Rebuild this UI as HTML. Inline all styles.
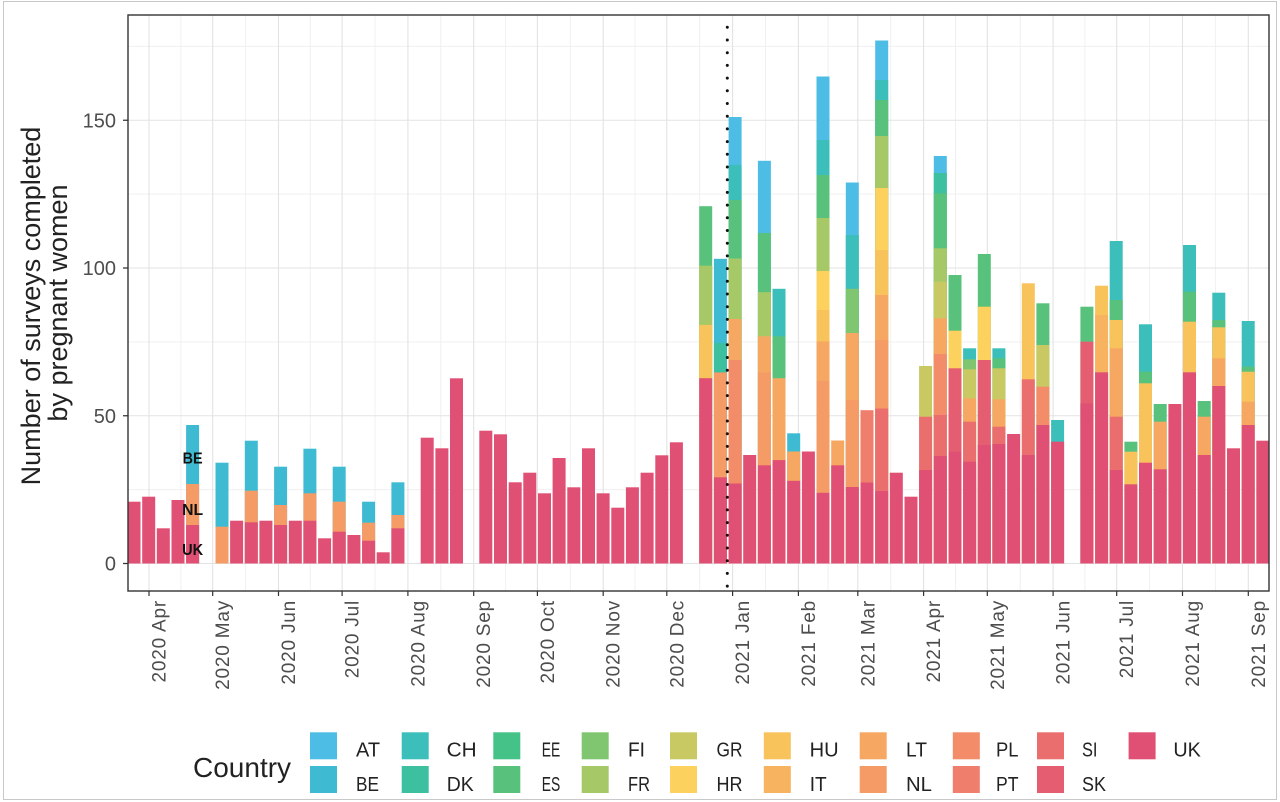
<!DOCTYPE html>
<html><head><meta charset="utf-8"><style>
html,body{margin:0;padding:0;background:#fff;width:1280px;height:802px;overflow:hidden}
svg{display:block}
.AT{fill:#4DBDE6}.BE{fill:#3EBBD3}.CH{fill:#3CBEBB}.DK{fill:#3CC0A0}.EE{fill:#45C288}.ES{fill:#58C27C}
.FI{fill:#80C570}.FR{fill:#A7C867}.GR{fill:#C8C963}.HR{fill:#FCD15D}.HU{fill:#F9C35C}.IT{fill:#F7B35F}
.LT{fill:#F6A862}.NL{fill:#F59C66}.PL{fill:#F28C69}.PT{fill:#EF7E6C}.SI{fill:#EA6E6E}.SK{fill:#E45D71}.UK{fill:#E05074}
.yt{font-size:20px;fill:#4D4D4D;text-anchor:end}
.xt{font-size:19px;fill:#4D4D4D;text-anchor:end;letter-spacing:0.8px}
.lg{font-size:20px;fill:#222}
.bl{font-size:16px;font-weight:bold;fill:#111;text-anchor:middle}
</style></head><body>
<svg width="1280" height="802" viewBox="0 0 1280 802" font-family="'Liberation Sans', Arial, sans-serif">
<rect x="0" y="0" width="1280" height="802" fill="#fff"/>
<rect x="3.5" y="1.5" width="1273" height="798" fill="none" stroke="#C8C8C8" stroke-width="1"/>

<g stroke="#F0F0F0" stroke-width="1" fill="none">
<path d="M128 46.4H1269M128 194.1H1269M128 341.9H1269M128 489.6H1269"/>
<path d="M180.9 15V591M245.6 15V591M310.3 15V591M375 15V591M440.8 15V591M505.6 15V591M570.3 15V591M635 15V591M699.7 15V591M765.5 15V591M828.1 15V591M890.7 15V591M955.5 15V591M1020.2 15V591M1084.9 15V591M1149.6 15V591M1215.4 15V591"/>
</g>
<g stroke="#E3E3E3" stroke-width="1.1" fill="none">
<path d="M128 120.25H1269M128 268H1269M128 415.75H1269M128 563.5H1269"/>
<path d="M149 15V591M212.7 15V591M278.5 15V591M342.1 15V591M407.9 15V591M473.7 15V591M537.4 15V591M603.2 15V591M666.8 15V591M732.6 15V591M798.4 15V591M857.8 15V591M923.6 15V591M987.3 15V591M1053.1 15V591M1116.7 15V591M1182.5 15V591M1248.3 15V591"/>
</g>

<g>
<rect class="UK" x="127.5" y="501.7" width="13" height="61.8"/>
<rect class="UK" x="142.2" y="496.7" width="13" height="66.8"/>
<rect class="UK" x="156.8" y="528.3" width="13" height="35.2"/>
<rect class="UK" x="171.5" y="500" width="13" height="63.5"/>
<rect class="BE" x="186.1" y="425" width="13" height="138.5"/><rect class="NL" x="186.1" y="484" width="13" height="79.5"/><rect class="UK" x="186.1" y="525" width="13" height="38.5"/>
<rect class="BE" x="215.5" y="462.7" width="13" height="100.8"/><rect class="NL" x="215.5" y="526.7" width="13" height="36.8"/>
<rect class="UK" x="230.1" y="520.7" width="13" height="42.8"/>
<rect class="BE" x="244.8" y="440.7" width="13" height="122.8"/><rect class="NL" x="244.8" y="490.7" width="13" height="72.8"/><rect class="UK" x="244.8" y="522.3" width="13" height="41.2"/>
<rect class="UK" x="259.4" y="520.7" width="13" height="42.8"/>
<rect class="BE" x="274.1" y="466.7" width="13" height="96.8"/><rect class="NL" x="274.1" y="505" width="13" height="58.5"/><rect class="UK" x="274.1" y="525" width="13" height="38.5"/>
<rect class="UK" x="288.8" y="520.7" width="13" height="42.8"/>
<rect class="BE" x="303.4" y="448.7" width="13" height="114.8"/><rect class="NL" x="303.4" y="493.3" width="13" height="70.2"/><rect class="UK" x="303.4" y="520.7" width="13" height="42.8"/>
<rect class="UK" x="318.1" y="538.3" width="13" height="25.2"/>
<rect class="BE" x="332.7" y="466.7" width="13" height="96.8"/><rect class="NL" x="332.7" y="501.7" width="13" height="61.8"/><rect class="UK" x="332.7" y="531.7" width="13" height="31.8"/>
<rect class="UK" x="347.4" y="535" width="13" height="28.5"/>
<rect class="BE" x="362.1" y="501.7" width="13" height="61.8"/><rect class="NL" x="362.1" y="522.7" width="13" height="40.8"/><rect class="UK" x="362.1" y="540.7" width="13" height="22.8"/>
<rect class="UK" x="376.7" y="552.3" width="13" height="11.2"/>
<rect class="BE" x="391.4" y="482.3" width="13" height="81.2"/><rect class="NL" x="391.4" y="515" width="13" height="48.5"/><rect class="UK" x="391.4" y="528.3" width="13" height="35.2"/>
<rect class="UK" x="420.7" y="437.7" width="13" height="125.8"/>
<rect class="UK" x="435.4" y="448.3" width="13" height="115.2"/>
<rect class="UK" x="450" y="378.3" width="13" height="185.2"/>
<rect class="UK" x="479.3" y="430.7" width="13" height="132.8"/>
<rect class="UK" x="494" y="434.3" width="13" height="129.2"/>
<rect class="UK" x="508.7" y="482.3" width="13" height="81.2"/>
<rect class="UK" x="523.3" y="472.7" width="13" height="90.8"/>
<rect class="UK" x="538" y="493.3" width="13" height="70.2"/>
<rect class="UK" x="552.6" y="458" width="13" height="105.5"/>
<rect class="UK" x="567.3" y="487.3" width="13" height="76.2"/>
<rect class="UK" x="582" y="448.3" width="13" height="115.2"/>
<rect class="UK" x="596.6" y="493.3" width="13" height="70.2"/>
<rect class="UK" x="611.3" y="507.7" width="13" height="55.8"/>
<rect class="UK" x="625.9" y="487.3" width="13" height="76.2"/>
<rect class="UK" x="640.6" y="472.7" width="13" height="90.8"/>
<rect class="UK" x="655.3" y="455.3" width="13" height="108.2"/>
<rect class="UK" x="669.9" y="442.3" width="13" height="121.2"/>
<rect class="ES" x="699.2" y="206.2" width="13" height="357.3"/><rect class="FR" x="699.2" y="265.7" width="13" height="297.8"/><rect class="HU" x="699.2" y="324.9" width="13" height="238.6"/><rect class="UK" x="699.2" y="378.2" width="13" height="185.3"/>
<rect class="BE" x="713.9" y="258.8" width="13" height="304.7"/><rect class="DK" x="713.9" y="343.1" width="13" height="220.4"/><rect class="NL" x="713.9" y="372.4" width="13" height="191.1"/><rect class="UK" x="713.9" y="477.3" width="13" height="86.2"/>
<rect class="AT" x="728.6" y="117" width="13" height="446.5"/><rect class="CH" x="728.6" y="165" width="13" height="398.5"/><rect class="ES" x="728.6" y="200" width="13" height="363.5"/><rect class="FR" x="728.6" y="258.5" width="13" height="305"/><rect class="LT" x="728.6" y="319" width="13" height="244.5"/><rect class="PL" x="728.6" y="360" width="13" height="203.5"/><rect class="UK" x="728.6" y="483.5" width="13" height="80"/>
<rect class="UK" x="743.2" y="455" width="13" height="108.5"/>
<rect class="AT" x="757.9" y="160.8" width="13" height="402.7"/><rect class="ES" x="757.9" y="233" width="13" height="330.5"/><rect class="FR" x="757.9" y="292.2" width="13" height="271.3"/><rect class="LT" x="757.9" y="336.3" width="13" height="227.2"/><rect class="NL" x="757.9" y="372.4" width="13" height="191.1"/><rect class="UK" x="757.9" y="465.3" width="13" height="98.2"/>
<rect class="CH" x="772.5" y="288.8" width="13" height="274.7"/><rect class="ES" x="772.5" y="336.3" width="13" height="227.2"/><rect class="LT" x="772.5" y="378.2" width="13" height="185.3"/><rect class="UK" x="772.5" y="460.1" width="13" height="103.4"/>
<rect class="BE" x="787.2" y="433.3" width="13" height="130.2"/><rect class="LT" x="787.2" y="451.5" width="13" height="112"/><rect class="UK" x="787.2" y="480.8" width="13" height="82.7"/>
<rect class="UK" x="801.9" y="451.5" width="13" height="112"/>
<rect class="AT" x="816.5" y="76.5" width="13" height="487"/><rect class="CH" x="816.5" y="140" width="13" height="423.5"/><rect class="ES" x="816.5" y="175" width="13" height="388.5"/><rect class="FR" x="816.5" y="218" width="13" height="345.5"/><rect class="HR" x="816.5" y="271" width="13" height="292.5"/><rect class="HU" x="816.5" y="310" width="13" height="253.5"/><rect class="LT" x="816.5" y="341.4" width="13" height="222.1"/><rect class="NL" x="816.5" y="381" width="13" height="182.5"/><rect class="UK" x="816.5" y="492.8" width="13" height="70.7"/>
<rect class="LT" x="831.2" y="440.5" width="13" height="123"/><rect class="UK" x="831.2" y="465.3" width="13" height="98.2"/>
<rect class="AT" x="845.8" y="182.5" width="13" height="381"/><rect class="CH" x="845.8" y="235" width="13" height="328.5"/><rect class="FI" x="845.8" y="288.8" width="13" height="274.7"/><rect class="LT" x="845.8" y="333" width="13" height="230.5"/><rect class="NL" x="845.8" y="400" width="13" height="163.5"/><rect class="UK" x="845.8" y="487" width="13" height="76.5"/>
<rect class="PT" x="860.5" y="410.2" width="13" height="153.3"/><rect class="UK" x="860.5" y="482.5" width="13" height="81"/>
<rect class="AT" x="875.2" y="40.5" width="13" height="523"/><rect class="CH" x="875.2" y="80" width="13" height="483.5"/><rect class="ES" x="875.2" y="100" width="13" height="463.5"/><rect class="FR" x="875.2" y="136" width="13" height="427.5"/><rect class="HR" x="875.2" y="188" width="13" height="375.5"/><rect class="HU" x="875.2" y="250" width="13" height="313.5"/><rect class="LT" x="875.2" y="295" width="13" height="268.5"/><rect class="NL" x="875.2" y="340" width="13" height="223.5"/><rect class="SI" x="875.2" y="408.5" width="13" height="155"/><rect class="UK" x="875.2" y="491.1" width="13" height="72.4"/>
<rect class="UK" x="889.8" y="472.7" width="13" height="90.8"/>
<rect class="UK" x="904.5" y="496.7" width="13" height="66.8"/>
<rect class="GR" x="919.1" y="366" width="13" height="197.5"/><rect class="SI" x="919.1" y="416.7" width="13" height="146.8"/><rect class="UK" x="919.1" y="470" width="13" height="93.5"/>
<rect class="AT" x="933.8" y="156" width="13" height="407.5"/><rect class="DK" x="933.8" y="173" width="13" height="390.5"/><rect class="ES" x="933.8" y="193.3" width="13" height="370.2"/><rect class="FR" x="933.8" y="248.3" width="13" height="315.2"/><rect class="GR" x="933.8" y="281.7" width="13" height="281.8"/><rect class="LT" x="933.8" y="318.3" width="13" height="245.2"/><rect class="PL" x="933.8" y="354" width="13" height="209.5"/><rect class="SI" x="933.8" y="415" width="13" height="148.5"/><rect class="UK" x="933.8" y="456" width="13" height="107.5"/>
<rect class="ES" x="948.5" y="275" width="13" height="288.5"/><rect class="HR" x="948.5" y="330.7" width="13" height="232.8"/><rect class="SK" x="948.5" y="368.3" width="13" height="195.2"/><rect class="UK" x="948.5" y="451.7" width="13" height="111.8"/>
<rect class="CH" x="963.1" y="348.3" width="13" height="215.2"/><rect class="FI" x="963.1" y="359.3" width="13" height="204.2"/><rect class="GR" x="963.1" y="369.3" width="13" height="194.2"/><rect class="LT" x="963.1" y="398.3" width="13" height="165.2"/><rect class="SI" x="963.1" y="421.7" width="13" height="141.8"/><rect class="UK" x="963.1" y="461.7" width="13" height="101.8"/>
<rect class="ES" x="977.8" y="254" width="13" height="309.5"/><rect class="HR" x="977.8" y="306.7" width="13" height="256.8"/><rect class="SK" x="977.8" y="360" width="13" height="203.5"/><rect class="UK" x="977.8" y="445" width="13" height="118.5"/>
<rect class="CH" x="992.4" y="348.3" width="13" height="215.2"/><rect class="ES" x="992.4" y="358.3" width="13" height="205.2"/><rect class="GR" x="992.4" y="368.3" width="13" height="195.2"/><rect class="LT" x="992.4" y="399.3" width="13" height="164.2"/><rect class="SI" x="992.4" y="426.7" width="13" height="136.8"/><rect class="UK" x="992.4" y="444" width="13" height="119.5"/>
<rect class="UK" x="1007.1" y="434" width="13" height="129.5"/>
<rect class="HU" x="1021.8" y="283.3" width="13" height="280.2"/><rect class="SI" x="1021.8" y="379.3" width="13" height="184.2"/><rect class="UK" x="1021.8" y="455" width="13" height="108.5"/>
<rect class="ES" x="1036.4" y="303.3" width="13" height="260.2"/><rect class="GR" x="1036.4" y="345" width="13" height="218.5"/><rect class="PL" x="1036.4" y="386.7" width="13" height="176.8"/><rect class="UK" x="1036.4" y="425" width="13" height="138.5"/>
<rect class="CH" x="1051.1" y="420" width="13" height="143.5"/><rect class="UK" x="1051.1" y="441.7" width="13" height="121.8"/>
<rect class="ES" x="1080.4" y="306.7" width="13" height="256.8"/><rect class="SK" x="1080.4" y="341.7" width="13" height="221.8"/><rect class="UK" x="1080.4" y="403.3" width="13" height="160.2"/>
<rect class="HU" x="1095.1" y="285.7" width="13" height="277.8"/><rect class="IT" x="1095.1" y="315" width="13" height="248.5"/><rect class="UK" x="1095.1" y="372.3" width="13" height="191.2"/>
<rect class="CH" x="1109.7" y="241" width="13" height="322.5"/><rect class="ES" x="1109.7" y="300" width="13" height="263.5"/><rect class="HU" x="1109.7" y="320" width="13" height="243.5"/><rect class="LT" x="1109.7" y="348.3" width="13" height="215.2"/><rect class="SI" x="1109.7" y="416.7" width="13" height="146.8"/><rect class="UK" x="1109.7" y="470" width="13" height="93.5"/>
<rect class="ES" x="1124.4" y="441.7" width="13" height="121.8"/><rect class="HU" x="1124.4" y="451.7" width="13" height="111.8"/><rect class="UK" x="1124.4" y="484.3" width="13" height="79.2"/>
<rect class="CH" x="1139" y="324.3" width="13" height="239.2"/><rect class="ES" x="1139" y="371.7" width="13" height="191.8"/><rect class="HU" x="1139" y="383.3" width="13" height="180.2"/><rect class="UK" x="1139" y="462.7" width="13" height="100.8"/>
<rect class="ES" x="1153.7" y="404" width="13" height="159.5"/><rect class="LT" x="1153.7" y="421.7" width="13" height="141.8"/><rect class="UK" x="1153.7" y="469.3" width="13" height="94.2"/>
<rect class="UK" x="1168.4" y="404" width="13" height="159.5"/>
<rect class="CH" x="1183" y="245" width="13" height="318.5"/><rect class="ES" x="1183" y="291.7" width="13" height="271.8"/><rect class="HU" x="1183" y="321.7" width="13" height="241.8"/><rect class="UK" x="1183" y="372.3" width="13" height="191.2"/>
<rect class="ES" x="1197.7" y="401" width="13" height="162.5"/><rect class="LT" x="1197.7" y="416.7" width="13" height="146.8"/><rect class="UK" x="1197.7" y="455" width="13" height="108.5"/>
<rect class="CH" x="1212.3" y="292.7" width="13" height="270.8"/><rect class="ES" x="1212.3" y="320" width="13" height="243.5"/><rect class="HU" x="1212.3" y="327.3" width="13" height="236.2"/><rect class="LT" x="1212.3" y="358.3" width="13" height="205.2"/><rect class="UK" x="1212.3" y="386" width="13" height="177.5"/>
<rect class="UK" x="1227" y="448.3" width="13" height="115.2"/>
<rect class="CH" x="1241.7" y="321" width="13" height="242.5"/><rect class="ES" x="1241.7" y="366.7" width="13" height="196.8"/><rect class="HU" x="1241.7" y="371.7" width="13" height="191.8"/><rect class="LT" x="1241.7" y="401.7" width="13" height="161.8"/><rect class="UK" x="1241.7" y="425" width="13" height="138.5"/>
<rect class="UK" x="1256.3" y="440.7" width="13" height="122.8"/>
</g>

<text class="bl" x="192.6" y="463.3" textLength="20" lengthAdjust="spacingAndGlyphs">BE</text>
<text class="bl" x="192.6" y="515" textLength="21" lengthAdjust="spacingAndGlyphs">NL</text>
<text class="bl" x="192.6" y="555" textLength="21" lengthAdjust="spacingAndGlyphs">UK</text>

<line x1="727.3" y1="27.3" x2="727.3" y2="590" stroke="#111" stroke-width="3" stroke-linecap="round" stroke-dasharray="0 12.7"/>

<rect x="128" y="15" width="1141" height="576" fill="none" stroke="#333" stroke-width="1.4"/>

<g stroke="#333" stroke-width="1.2">
<path d="M123 563.5H128M123 415.75H128M123 268H128M123 120.25H128"/>
<path d="M149 591V596M212.7 591V596M278.5 591V596M342.1 591V596M407.9 591V596M473.7 591V596M537.4 591V596M603.2 591V596M666.8 591V596M732.6 591V596M798.4 591V596M857.8 591V596M923.6 591V596M987.3 591V596M1053.1 591V596M1116.7 591V596M1182.5 591V596M1248.3 591V596"/>
</g>
<text class="yt" x="116" y="570.5">0</text>
<text class="yt" x="116" y="422.75">50</text>
<text class="yt" x="116" y="275">100</text>
<text class="yt" x="116" y="127.25">150</text>

<text class="xt" transform="translate(165.5,600) rotate(-90)">2020 Apr</text>
<text class="xt" transform="translate(229.2,600) rotate(-90)">2020 May</text>
<text class="xt" transform="translate(295,600) rotate(-90)">2020 Jun</text>
<text class="xt" transform="translate(358.6,600) rotate(-90)">2020 Jul</text>
<text class="xt" transform="translate(424.4,600) rotate(-90)">2020 Aug</text>
<text class="xt" transform="translate(490.2,600) rotate(-90)">2020 Sep</text>
<text class="xt" transform="translate(553.9,600) rotate(-90)">2020 Oct</text>
<text class="xt" transform="translate(619.7,600) rotate(-90)">2020 Nov</text>
<text class="xt" transform="translate(683.3,600) rotate(-90)">2020 Dec</text>
<text class="xt" transform="translate(749.1,600) rotate(-90)">2021 Jan</text>
<text class="xt" transform="translate(814.9,600) rotate(-90)">2021 Feb</text>
<text class="xt" transform="translate(874.3,600) rotate(-90)">2021 Mar</text>
<text class="xt" transform="translate(940.1,600) rotate(-90)">2021 Apr</text>
<text class="xt" transform="translate(1003.8,600) rotate(-90)">2021 May</text>
<text class="xt" transform="translate(1069.6,600) rotate(-90)">2021 Jun</text>
<text class="xt" transform="translate(1133.2,600) rotate(-90)">2021 Jul</text>
<text class="xt" transform="translate(1199,600) rotate(-90)">2021 Aug</text>
<text class="xt" transform="translate(1264.8,600) rotate(-90)">2021 Sep</text>

<text transform="translate(40,306) rotate(-90)" text-anchor="middle" font-size="27" fill="#222">Number of surveys completed</text>
<text transform="translate(67,303) rotate(-90)" text-anchor="middle" font-size="27" fill="#222">by pregnant women</text>

<text x="193" y="777" font-size="28" fill="#222">Country</text>
<rect class="AT" x="310" y="732.3" width="27" height="27"/><rect class="BE" x="310" y="766" width="27" height="27"/>
<rect class="CH" x="401.7" y="732.3" width="27" height="27"/><rect class="DK" x="401.7" y="766" width="27" height="27"/>
<rect class="EE" x="493.3" y="732.3" width="27" height="27"/><rect class="ES" x="493.3" y="766" width="27" height="27"/>
<rect class="FI" x="581.7" y="732.3" width="27" height="27"/><rect class="FR" x="581.7" y="766" width="27" height="27"/>
<rect class="GR" x="670" y="732.3" width="27" height="27"/><rect class="HR" x="670" y="766" width="27" height="27"/>
<rect class="HU" x="763.8" y="732.3" width="27" height="27"/><rect class="IT" x="763.8" y="766" width="27" height="27"/>
<rect class="LT" x="859.7" y="732.3" width="27" height="27"/><rect class="NL" x="859.7" y="766" width="27" height="27"/>
<rect class="PL" x="952.8" y="732.3" width="27" height="27"/><rect class="PT" x="952.8" y="766" width="27" height="27"/>
<rect class="SI" x="1037" y="732.3" width="27" height="27"/><rect class="SK" x="1037" y="766" width="27" height="27"/>
<rect class="UK" x="1128.6" y="732.3" width="27" height="27"/>

<text class="lg" x="356" y="756.5" textLength="24" lengthAdjust="spacingAndGlyphs">AT</text>
<text class="lg" x="356" y="791" textLength="23" lengthAdjust="spacingAndGlyphs">BE</text>
<text class="lg" x="446.7" y="756.5" textLength="30" lengthAdjust="spacingAndGlyphs">CH</text>
<text class="lg" x="446.7" y="791" textLength="27" lengthAdjust="spacingAndGlyphs">DK</text>
<text class="lg" x="541.7" y="756.5" textLength="18.5" lengthAdjust="spacingAndGlyphs">EE</text>
<text class="lg" x="541.7" y="791" textLength="18.5" lengthAdjust="spacingAndGlyphs">ES</text>
<text class="lg" x="628" y="756.5" textLength="17" lengthAdjust="spacingAndGlyphs">FI</text>
<text class="lg" x="628" y="791" textLength="22" lengthAdjust="spacingAndGlyphs">FR</text>
<text class="lg" x="716.5" y="756.5" textLength="26" lengthAdjust="spacingAndGlyphs">GR</text>
<text class="lg" x="716.5" y="791" textLength="26" lengthAdjust="spacingAndGlyphs">HR</text>
<text class="lg" x="809.7" y="756.5" textLength="29" lengthAdjust="spacingAndGlyphs">HU</text>
<text class="lg" x="809.7" y="791" textLength="17" lengthAdjust="spacingAndGlyphs">IT</text>
<text class="lg" x="906" y="756.5" textLength="21" lengthAdjust="spacingAndGlyphs">LT</text>
<text class="lg" x="906" y="791" textLength="26" lengthAdjust="spacingAndGlyphs">NL</text>
<text class="lg" x="996" y="756.5" textLength="22.5" lengthAdjust="spacingAndGlyphs">PL</text>
<text class="lg" x="996" y="791" textLength="22.5" lengthAdjust="spacingAndGlyphs">PT</text>
<text class="lg" x="1082" y="756.5" textLength="15.5" lengthAdjust="spacingAndGlyphs">SI</text>
<text class="lg" x="1082" y="791" textLength="24" lengthAdjust="spacingAndGlyphs">SK</text>
<text class="lg" x="1173.4" y="756.5" textLength="27.5" lengthAdjust="spacingAndGlyphs">UK</text>
</svg>
</body></html>
